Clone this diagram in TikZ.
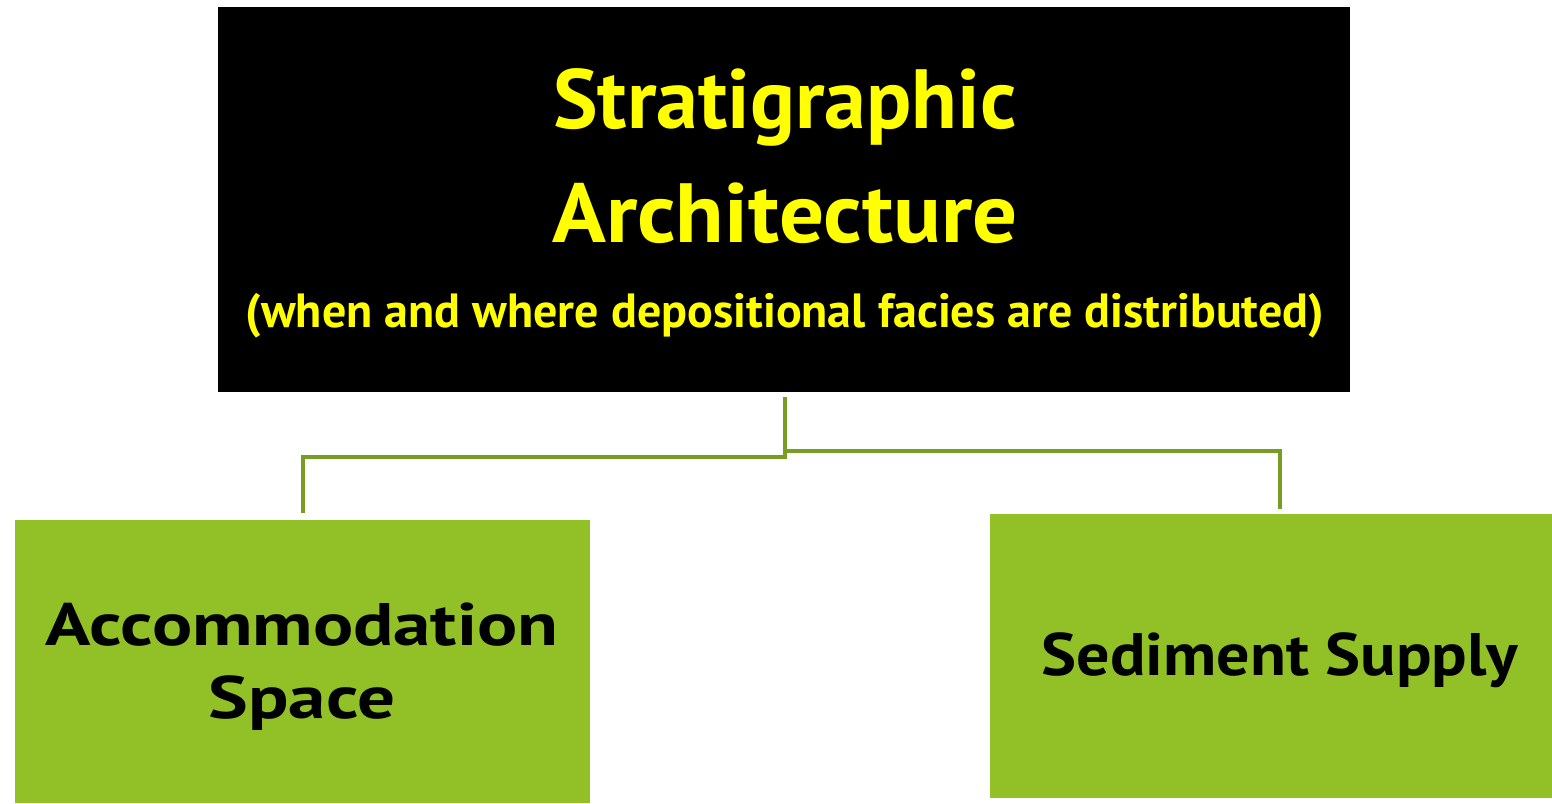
\documentclass[tikz,border=0pt]{standalone}
\usepackage{fontspec}
\setmainfont{PT Sans}
\definecolor{boxgreen}{HTML}{92C127}
\definecolor{linegreen}{HTML}{779E22}
\definecolor{titleyellow}{HTML}{FFFF00}
\begin{document}
\begin{tikzpicture}[x=1pt,y=-1pt,
  box/.style={draw=none,inner sep=0pt,anchor=north west},
  conn/.style={draw=linegreen,line width=4.5pt,line join=miter},
  ttl/.style={font=\bfseries\fontsize{84}{86}\selectfont,text=titleyellow,anchor=base},
  sub/.style={font=\bfseries\fontsize{48}{50}\selectfont,text=titleyellow,anchor=base},
  lbl/.style={font=\bfseries\fontsize{60}{62}\selectfont,text=black,anchor=base}]
\useasboundingbox[fill=white] (0,0) rectangle (1552,803);
\node[box,fill=black,minimum width=1132pt,minimum height=385pt] (top) at (218,7) {};
\node[box,fill=boxgreen,minimum width=575pt,minimum height=283pt] (left) at (15,520) {};
\node[box,fill=boxgreen,minimum width=562pt,minimum height=284pt] (right) at (990,514) {};
\node[ttl] (t1) at (785,128) {Stratigraphic};
\node[ttl] (t2) at (785,242) {\addfontfeatures{FakeStretch=1.06}Architecture};
\node[sub] (t3) at (785,327) {(when and where depositional facies are distributed)};
\node[lbl] (l1) at (302,645) {\addfontfeatures{FakeStretch=1.25}Accommodation};
\node[lbl] (l2) at (302,718) {\addfontfeatures{FakeStretch=1.25}Space};
\node[lbl] (r1) at (1280,675) {\addfontfeatures{FakeStretch=1.1}Sediment Supply};
\coordinate (c0) at (785,397);
\coordinate (cl) at (303,513);
\coordinate (cr) at (1280,509);
\draw[conn] (c0) -- (785,457) -- (cl |- 0,457) -- (cl);
\draw[conn,line width=4pt] (787,451) -- (cr |- 0,451) -- (cr);
\end{tikzpicture}
\end{document}
